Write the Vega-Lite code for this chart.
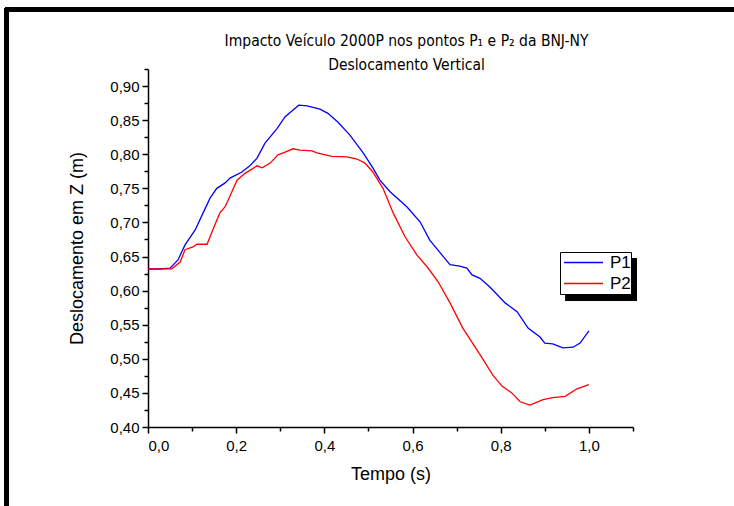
{
  "$schema": "https://vega.github.io/schema/vega-lite/v6.json",
  "width": 485,
  "height": 358,
  "autosize": {"type": "none"},
  "padding": {"left": 148, "top": 69, "right": 101, "bottom": 79},
  "background": "white",
  "title": {
    "text": ["Impacto Veículo 2000P nos pontos P₁ e P₂ da BNJ-NY", "Deslocamento Vertical"],
    "font": "DejaVu Sans Condensed",
    "fontSize": 15.5,
    "fontWeight": "normal",
    "color": "black",
    "lineHeight": 24,
    "anchor": "middle",
    "frame": "group",
    "dx": 16,
    "offset": -66
  },
  "config": {
    "view": {"stroke": null},
    "axis": {
      "grid": false,
      "domainColor": "black",
      "domainWidth": 1.5,
      "tickColor": "black",
      "tickWidth": 1.5,
      "labelColor": "black",
      "titleColor": "black",
      "labelFont": "Liberation Sans",
      "titleFont": "Liberation Sans",
      "labelFontSize": 15,
      "titleFontSize": 18,
      "titleFontWeight": "normal"
    },
    "legend": {
      "orient": "none",
      "legendX": 412,
      "legendY": 183,
      "strokeColor": "black",
      "strokeWidth": 1,
      "fillColor": "white",
      "padding": 0,
      "symbolType": "stroke",
      "symbolSize": 1521,
      "symbolStrokeWidth": 1.5,
      "symbolOffset": 3,
      "clipHeight": 21,
      "labelFont": "Liberation Sans",
      "labelFontSize": 17,
      "labelColor": "black",
      "labelOffset": 6,
      "rowPadding": 0,
      "title": null
    }
  },
  "datasets": {
    "curves": [
      {"t": 0.0, "v": 0.6317, "s": "P1"},
      {"t": 0.027, "v": 0.6317, "s": "P1"},
      {"t": 0.05, "v": 0.633, "s": "P1"},
      {"t": 0.068, "v": 0.645, "s": "P1"},
      {"t": 0.084, "v": 0.667, "s": "P1"},
      {"t": 0.107, "v": 0.689, "s": "P1"},
      {"t": 0.125, "v": 0.714, "s": "P1"},
      {"t": 0.141, "v": 0.736, "s": "P1"},
      {"t": 0.156, "v": 0.75, "s": "P1"},
      {"t": 0.175, "v": 0.758, "s": "P1"},
      {"t": 0.186, "v": 0.765, "s": "P1"},
      {"t": 0.213, "v": 0.774, "s": "P1"},
      {"t": 0.231, "v": 0.783, "s": "P1"},
      {"t": 0.247, "v": 0.794, "s": "P1"},
      {"t": 0.265, "v": 0.816, "s": "P1"},
      {"t": 0.293, "v": 0.838, "s": "P1"},
      {"t": 0.311, "v": 0.855, "s": "P1"},
      {"t": 0.329, "v": 0.865, "s": "P1"},
      {"t": 0.342, "v": 0.872, "s": "P1"},
      {"t": 0.361, "v": 0.871, "s": "P1"},
      {"t": 0.39, "v": 0.866, "s": "P1"},
      {"t": 0.408, "v": 0.86, "s": "P1"},
      {"t": 0.431, "v": 0.847, "s": "P1"},
      {"t": 0.458, "v": 0.828, "s": "P1"},
      {"t": 0.488, "v": 0.802, "s": "P1"},
      {"t": 0.51, "v": 0.78, "s": "P1"},
      {"t": 0.526, "v": 0.762, "s": "P1"},
      {"t": 0.549, "v": 0.745, "s": "P1"},
      {"t": 0.587, "v": 0.723, "s": "P1"},
      {"t": 0.617, "v": 0.701, "s": "P1"},
      {"t": 0.639, "v": 0.674, "s": "P1"},
      {"t": 0.667, "v": 0.652, "s": "P1"},
      {"t": 0.685, "v": 0.638, "s": "P1"},
      {"t": 0.707, "v": 0.636, "s": "P1"},
      {"t": 0.723, "v": 0.633, "s": "P1"},
      {"t": 0.735, "v": 0.623, "s": "P1"},
      {"t": 0.753, "v": 0.618, "s": "P1"},
      {"t": 0.776, "v": 0.605, "s": "P1"},
      {"t": 0.81, "v": 0.582, "s": "P1"},
      {"t": 0.837, "v": 0.569, "s": "P1"},
      {"t": 0.862, "v": 0.545, "s": "P1"},
      {"t": 0.889, "v": 0.532, "s": "P1"},
      {"t": 0.9, "v": 0.523, "s": "P1"},
      {"t": 0.918, "v": 0.522, "s": "P1"},
      {"t": 0.941, "v": 0.516, "s": "P1"},
      {"t": 0.964, "v": 0.517, "s": "P1"},
      {"t": 0.98, "v": 0.523, "s": "P1"},
      {"t": 1.0, "v": 0.541, "s": "P1"},
      {"t": 0.0, "v": 0.632, "s": "P2"},
      {"t": 0.054, "v": 0.632, "s": "P2"},
      {"t": 0.073, "v": 0.642, "s": "P2"},
      {"t": 0.084, "v": 0.66, "s": "P2"},
      {"t": 0.102, "v": 0.664, "s": "P2"},
      {"t": 0.111, "v": 0.668, "s": "P2"},
      {"t": 0.134, "v": 0.668, "s": "P2"},
      {"t": 0.145, "v": 0.686, "s": "P2"},
      {"t": 0.163, "v": 0.714, "s": "P2"},
      {"t": 0.175, "v": 0.723, "s": "P2"},
      {"t": 0.202, "v": 0.762, "s": "P2"},
      {"t": 0.22, "v": 0.772, "s": "P2"},
      {"t": 0.247, "v": 0.783, "s": "P2"},
      {"t": 0.259, "v": 0.78, "s": "P2"},
      {"t": 0.277, "v": 0.787, "s": "P2"},
      {"t": 0.295, "v": 0.799, "s": "P2"},
      {"t": 0.311, "v": 0.803, "s": "P2"},
      {"t": 0.329, "v": 0.808, "s": "P2"},
      {"t": 0.345, "v": 0.806, "s": "P2"},
      {"t": 0.372, "v": 0.805, "s": "P2"},
      {"t": 0.383, "v": 0.802, "s": "P2"},
      {"t": 0.417, "v": 0.797, "s": "P2"},
      {"t": 0.451, "v": 0.796, "s": "P2"},
      {"t": 0.474, "v": 0.793, "s": "P2"},
      {"t": 0.492, "v": 0.787, "s": "P2"},
      {"t": 0.51, "v": 0.774, "s": "P2"},
      {"t": 0.533, "v": 0.75, "s": "P2"},
      {"t": 0.556, "v": 0.714, "s": "P2"},
      {"t": 0.583, "v": 0.679, "s": "P2"},
      {"t": 0.61, "v": 0.652, "s": "P2"},
      {"t": 0.633, "v": 0.635, "s": "P2"},
      {"t": 0.658, "v": 0.613, "s": "P2"},
      {"t": 0.685, "v": 0.582, "s": "P2"},
      {"t": 0.714, "v": 0.545, "s": "P2"},
      {"t": 0.753, "v": 0.506, "s": "P2"},
      {"t": 0.782, "v": 0.476, "s": "P2"},
      {"t": 0.803, "v": 0.46, "s": "P2"},
      {"t": 0.825, "v": 0.45, "s": "P2"},
      {"t": 0.844, "v": 0.437, "s": "P2"},
      {"t": 0.866, "v": 0.432, "s": "P2"},
      {"t": 0.896, "v": 0.44, "s": "P2"},
      {"t": 0.918, "v": 0.443, "s": "P2"},
      {"t": 0.946, "v": 0.445, "s": "P2"},
      {"t": 0.973, "v": 0.456, "s": "P2"},
      {"t": 1.0, "v": 0.462, "s": "P2"}
    ]
  },
  "data": {"name": "curves"},
  "resolve": {"axis": {"x": "independent", "y": "independent"}},
  "layer": [
    {
      "mark": {"type": "rect", "fill": null, "stroke": "black", "strokeWidth": 4, "clip": false},
      "encoding": {
        "x": {"datum": -0.32, "type": "quantitative", "scale": {"domain": [0, 1.1], "nice": false, "zero": false}, "axis": null},
        "x2": {"datum": 3},
        "y": {"datum": 1.012, "type": "quantitative", "scale": {"domain": [0.4, 0.925], "nice": false, "zero": false}, "axis": null},
        "y2": {"datum": -1}
      }
    },
    {
      "mark": {"type": "rect", "fill": "black", "clip": false},
      "encoding": {
        "x": {"datum": 0.948, "type": "quantitative", "axis": null},
        "x2": {"datum": 1.107},
        "y": {"datum": 0.6478, "type": "quantitative", "axis": null},
        "y2": {"datum": 0.5847}
      }
    },
    {
      "mark": {"type": "line", "opacity": 0},
      "encoding": {
        "x": {"field": "t", "type": "quantitative", "axis": {"orient": "bottom", "values": [0.1, 0.3, 0.5, 0.7, 0.9, 1.1], "labels": false, "domain": false, "tickSize": 4, "title": null}},
        "y": {"field": "v", "type": "quantitative", "axis": {"orient": "left", "values": [0.425, 0.475, 0.525, 0.575, 0.625, 0.675, 0.725, 0.775, 0.825, 0.875, 0.925], "labels": false, "domain": false, "tickSize": 4, "title": null}},
        "detail": {"field": "s"}
      }
    },
    {
      "mark": {"type": "line", "strokeWidth": 1.3},
      "encoding": {
        "x": {"field": "t", "type": "quantitative", "axis": {"orient": "bottom", "values": [0, 0.2, 0.4, 0.6, 0.8, 1.0], "tickSize": 6, "labelPadding": 5, "labelExpr": "replace(format(datum.value, '.1f'), '.', ',')", "title": "Tempo (s)", "titlePadding": 12}},
        "y": {"field": "v", "type": "quantitative", "axis": {"orient": "left", "values": [0.4, 0.45, 0.5, 0.55, 0.6, 0.65, 0.7, 0.75, 0.8, 0.85, 0.9], "tickSize": 6, "labelPadding": 3, "labelExpr": "replace(format(datum.value, '.2f'), '.', ',')", "title": "Deslocamento em Z (m)", "titlePadding": 23}},
        "color": {"field": "s", "type": "nominal", "scale": {"domain": ["P1", "P2"], "range": ["#0000FF", "#FF0000"]}}
      }
    }
  ]
}
